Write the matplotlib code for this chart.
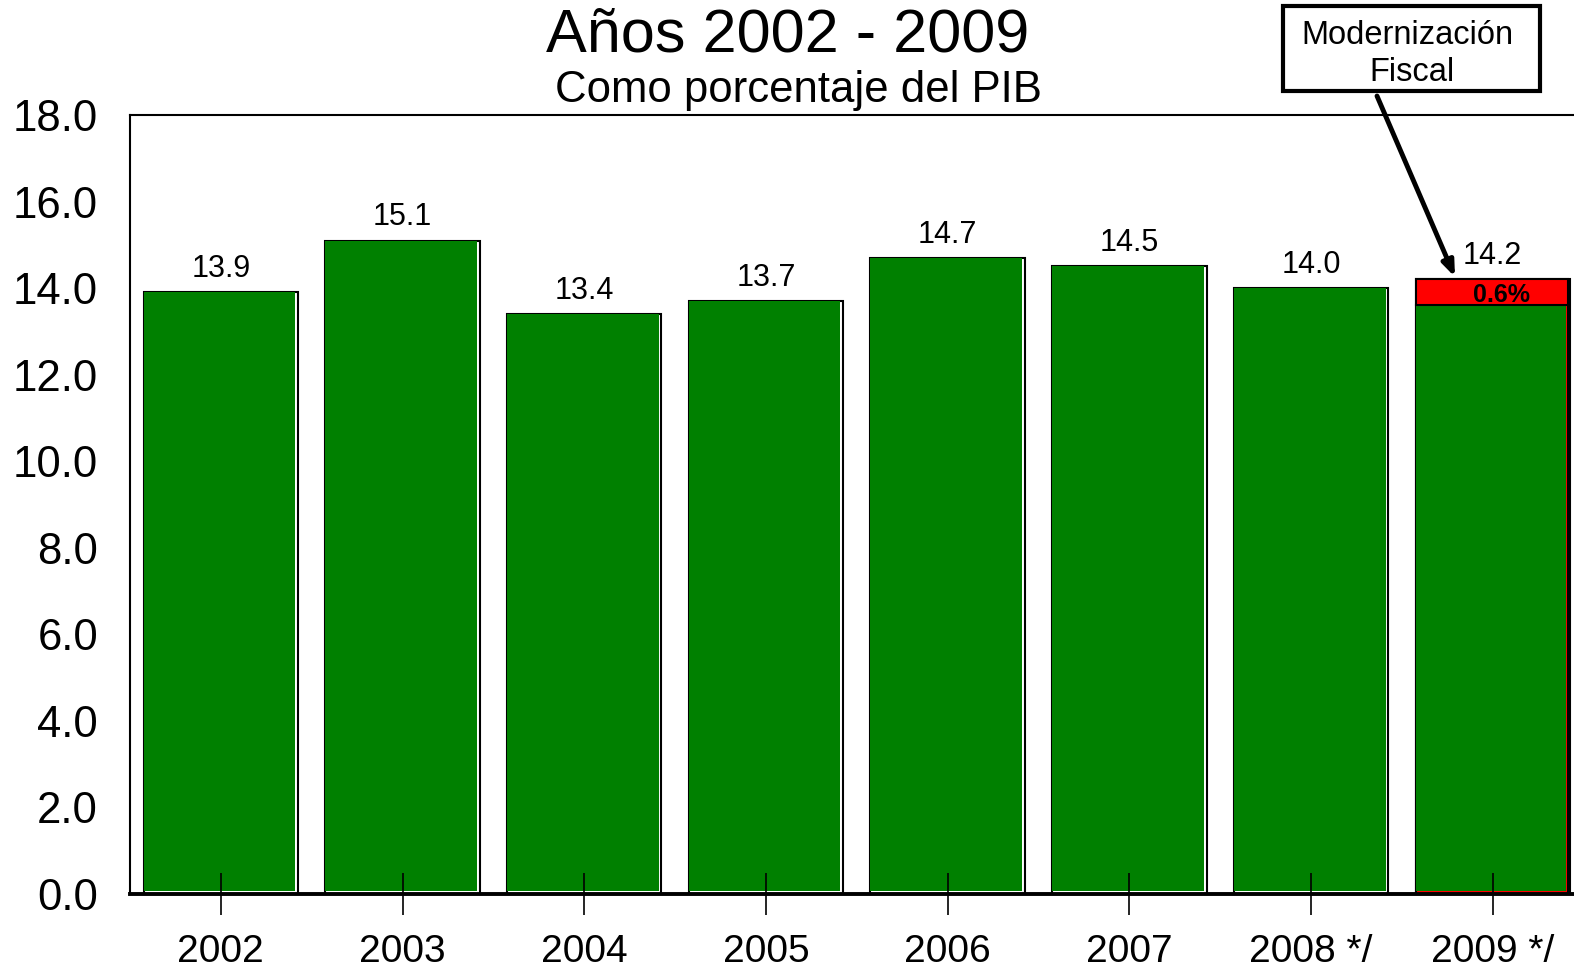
import matplotlib
matplotlib.use("Agg")
import matplotlib.pyplot as plt
from matplotlib.patches import Rectangle
import numpy as np

plt.rcParams['font.family'] = ['Liberation Sans', 'DejaVu Sans']

years = ["2002", "2003", "2004", "2005", "2006", "2007", "2008 */", "2009 */"]
totals = [13.9, 15.1, 13.4, 13.7, 14.7, 14.5, 14.0, 14.2]
base_2009 = 13.6
modernizacion_2009 = 0.6
value_labels = ["13.9", "15.1", "13.4", "13.7", "14.7", "14.5", "14.0", "14.2"]
yticks = [0, 2, 4, 6, 8, 10, 12, 14, 16, 18]

GREEN = "#008000"
RED = "#FF0000"

W, H = 1574, 968
fig = plt.figure(figsize=(W / 100, H / 100), dpi=100)

def fx(px):
    return px / W

def fy(py):
    return 1 - py / H

left_px, right_px, top_px, bot_px = 130, 1583.6, 115, 894
ax = fig.add_axes([fx(left_px), fy(bot_px), (right_px - left_px) / W, (bot_px - top_px) / H])

x = np.arange(len(years))
bw = 0.85
inner = 0.835
n = len(years)

# outer outlined bars (white showing as highlight stripe)
ax.bar(x, totals, width=bw, color="white", edgecolor="black", linewidth=1.5, zorder=2)
# green bars for regular years
reg = x[:-1]
reg_vals = np.array(totals[:-1])
ax.bar(reg - bw / 2, reg_vals - 0.07, bottom=0.07, width=inner, align="edge",
       color=GREEN, edgecolor="none", zorder=3)
# 2009: red full bar then green base
ax.bar(x[-1] - bw / 2, totals[-1], width=bw - 0.01, align="edge",
       color=RED, edgecolor="black", linewidth=1.5, zorder=3)
ax.bar(x[-1] - bw / 2, base_2009 - 0.07, bottom=0.07, width=inner - 0.005, align="edge",
       color=GREEN, edgecolor="none", zorder=4)
ax.plot([x[-1] - bw / 2, x[-1] - bw / 2 + inner - 0.005], [base_2009, base_2009],
        color="black", lw=1.5, zorder=5)

for i, (v, lab) in enumerate(zip(totals, value_labels)):
    ax.annotate(lab, xy=(x[i], v), xytext=(0, 11), textcoords="offset points",
                ha="center", va="baseline", fontsize=22, zorder=6)

ax.text(x[-1] + 0.05, base_2009 + modernizacion_2009 / 2 - 0.05, "0.6%", ha="center", va="center",
        fontsize=18, fontweight="bold", zorder=6)

ax.set_xlim(-0.5, n - 0.5)
ax.set_ylim(0, 18)
ax.set_yticks(yticks)
ax.set_yticklabels([f"{t:.1f}" for t in yticks], fontsize=31.5)
ax.set_xticks(x)
ax.set_xticklabels(years, fontsize=28)
ax.tick_params(axis="y", length=0, pad=23)
ax.tick_params(axis="x", direction="inout", length=30, width=1.2, pad=14)

for s in ["left", "top", "right"]:
    ax.spines[s].set_linewidth(1.5)
ax.spines["bottom"].set_linewidth(2.8)
ax.spines["bottom"].set_zorder(9)
ax.xaxis.set_zorder(10)

# titles
fig.text(fx(788), fy(52), "Años 2002 - 2009", ha="center", va="baseline", fontsize=44)
fig.text(fx(798), fy(102), "Como porcentaje del PIB", ha="center", va="baseline", fontsize=31.5)

# annotation box
fig.patches.append(Rectangle((fx(1283), fy(91)), fx(1540) - fx(1283), fy(6) - fy(91),
                             transform=fig.transFigure, facecolor="white",
                             edgecolor="black", linewidth=3, zorder=5))
fig.text(fx(1407), fy(44), "Modernización", ha="center", va="baseline", fontsize=23.5, zorder=6)
fig.text(fx(1412), fy(81), "Fiscal", ha="center", va="baseline", fontsize=23.5, zorder=6)

# arrow
x0 = (1377 - left_px) / ((right_px - left_px) / n) - 0.5
y0 = (bot_px - 96) / ((bot_px - top_px) / 18)
x1 = (1455 - left_px) / ((right_px - left_px) / n) - 0.5
y1 = (bot_px - 277) / ((bot_px - top_px) / 18)
ax.annotate("", xy=(x1, y1), xytext=(x0, y0), xycoords="data", textcoords="data",
            annotation_clip=False,
            arrowprops=dict(arrowstyle="-|>,head_length=0.9,head_width=0.35", color="black",
                            lw=3.5, shrinkA=0, shrinkB=0), zorder=7)

fig.savefig("out.png", dpi=100)
